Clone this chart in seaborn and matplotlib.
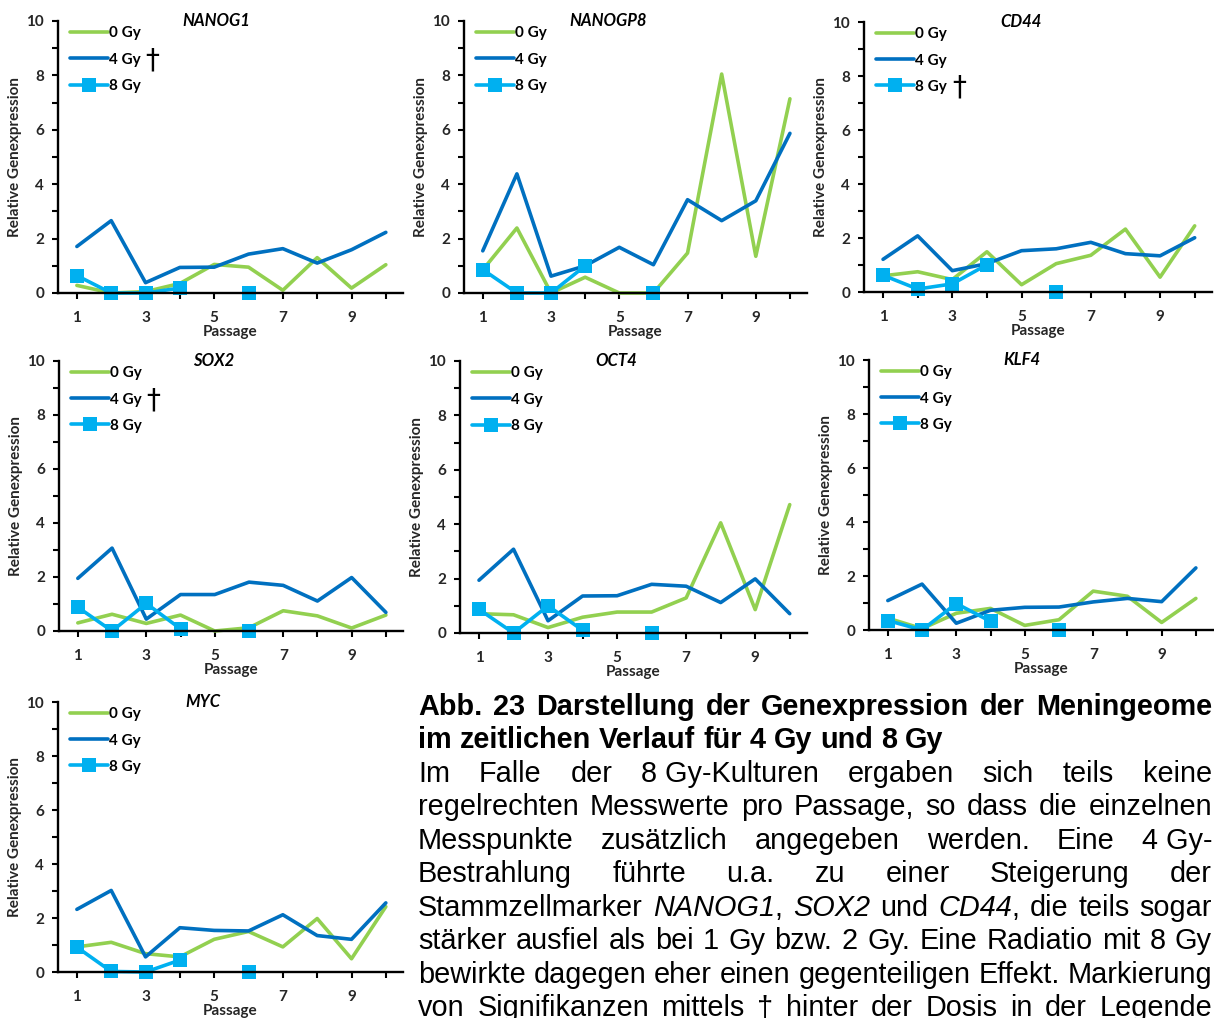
import numpy as np
import pandas as pd
import matplotlib
matplotlib.use("Agg")
import matplotlib.pyplot as plt
import seaborn as sns
from matplotlib.lines import Line2D

nan = np.nan

# ---------------- data ----------------
passages = list(range(1, 11))
doses = ["0 Gy", "4 Gy", "8 Gy"]
genes = ["NANOG1", "NANOGP8", "CD44", "SOX2", "OCT4", "KLF4", "MYC"]

nanog1_0gy = [0.28, 0.00, 0.05, 0.35, 1.05, 0.95, 0.10, 1.30, 0.18, 1.04]
nanog1_4gy = [1.71, 2.66, 0.38, 0.94, 0.95, 1.43, 1.63, 1.10, 1.59, 2.23]
nanog1_8gy = [0.64, 0.00, 0.00, 0.18, nan, 0.00, nan, nan, nan, nan]

nanogp8_0gy = [0.85, 2.39, 0.00, 0.58, 0.00, 0.00, 1.47, 8.05, 1.35, 7.14]
nanogp8_4gy = [1.55, 4.38, 0.62, 1.00, 1.68, 1.04, 3.43, 2.66, 3.39, 5.87]
nanogp8_8gy = [0.86, 0.00, 0.00, 1.00, nan, 0.00, nan, nan, nan, nan]

cd44_0gy = [0.60, 0.75, 0.46, 1.49, 0.27, 1.05, 1.36, 2.33, 0.55, 2.45]
cd44_4gy = [1.21, 2.08, 0.79, 1.05, 1.53, 1.60, 1.84, 1.42, 1.34, 2.01]
cd44_8gy = [0.62, 0.11, 0.30, 1.01, nan, 0.00, nan, nan, nan, nan]

sox2_0gy = [0.30, 0.62, 0.28, 0.59, 0.00, 0.12, 0.75, 0.56, 0.11, 0.59]
sox2_4gy = [1.95, 3.07, 0.44, 1.35, 1.35, 1.81, 1.69, 1.11, 1.98, 0.69]
sox2_8gy = [0.88, 0.00, 1.02, 0.08, nan, 0.00, nan, nan, nan, nan]

oct4_0gy = [0.71, 0.67, 0.20, 0.58, 0.77, 0.77, 1.29, 4.05, 0.86, 4.72]
oct4_4gy = [1.94, 3.08, 0.45, 1.36, 1.37, 1.79, 1.72, 1.12, 1.99, 0.71]
oct4_8gy = [0.87, 0.00, 1.00, 0.10, nan, 0.00, nan, nan, nan, nan]

klf4_0gy = [0.44, 0.05, 0.62, 0.80, 0.17, 0.38, 1.44, 1.25, 0.28, 1.17]
klf4_4gy = [1.09, 1.70, 0.25, 0.73, 0.84, 0.85, 1.04, 1.17, 1.05, 2.30]
klf4_8gy = [0.35, 0.00, 0.98, 0.32, nan, 0.00, nan, nan, nan, nan]

myc_0gy = [0.93, 1.10, 0.68, 0.56, 1.21, 1.50, 0.93, 1.98, 0.49, 2.42]
myc_4gy = [2.32, 3.02, 0.56, 1.64, 1.54, 1.52, 2.12, 1.35, 1.21, 2.56]
myc_8gy = [0.92, 0.02, 0.00, 0.44, nan, 0.00, nan, nan, nan, nan]

series = {
    "NANOG1": (nanog1_0gy, nanog1_4gy, nanog1_8gy),
    "NANOGP8": (nanogp8_0gy, nanogp8_4gy, nanogp8_8gy),
    "CD44": (cd44_0gy, cd44_4gy, cd44_8gy),
    "SOX2": (sox2_0gy, sox2_4gy, sox2_8gy),
    "OCT4": (oct4_0gy, oct4_4gy, oct4_8gy),
    "KLF4": (klf4_0gy, klf4_4gy, klf4_8gy),
    "MYC": (myc_0gy, myc_4gy, myc_8gy),
}
significant = {"NANOG1": "4 Gy", "CD44": "8 Gy", "SOX2": "4 Gy"}

x_ticklabels = ["1", "", "3", "", "5", "", "7", "", "9", ""]
y_label = "Relative Genexpression"
x_label = "Passage"

heading_lines = [
    "Abb. 23 Darstellung der Genexpression der Meningeome",
    "im zeitlichen Verlauf für 4 Gy und 8 Gy",
]
body_lines = [
    [["Im"], ["Falle"], ["der"], ["8 Gy-Kulturen"], ["ergaben"], ["sich"], ["teils"], ["keine"]],
    "regelrechten Messwerte pro Passage, so dass die einzelnen",
    [["Messpunkte"], ["zusätzlich"], ["angegeben"], ["werden."], ["Eine"], ["4 Gy-"]],
    "Bestrahlung führte u.a. zu einer Steigerung der",
    [["Stammzellmarker"], [("NANOG1", "italic"), (",", "normal")], [("SOX2", "italic")],
     ["und"], [("CD44", "italic"), (",", "normal")], ["die"], ["teils"], ["sogar"]],
    "stärker ausfiel als bei 1 Gy bzw. 2 Gy. Eine Radiatio mit 8 Gy",
    "bewirkte dagegen eher einen gegenteiligen Effekt. Markierung",
    "von Signifikanzen mittels † hinter der Dosis in der Legende",
]

# ---------------- style ----------------
colors = {"0 Gy": "#92D050", "4 Gy": "#0070C0", "8 Gy": "#00B0F0"}
sns.set_theme(style="ticks")
plt.rcParams["font.family"] = ["Lato", "DejaVu Sans"]
plt.rcParams["axes.edgecolor"] = "black"
plt.rcParams["text.color"] = "black"

W, H = 1214, 1018
fig = plt.figure(figsize=(W / 100, H / 100), dpi=100)
fig.patch.set_facecolor("white")

# axes boxes in pixels: left, right, top, bottom
boxes = {
    "NANOG1": (58, 403, 21, 293),
    "NANOGP8": (464, 807, 21, 293),
    "CD44": (864, 1212, 22, 292),
    "SOX2": (59, 403, 361, 631),
    "OCT4": (460, 807, 361, 633),
    "KLF4": (869, 1213, 360, 630),
    "MYC": (58, 403, 702, 972),
}
title_x = {"NANOG1": 0.46, "NANOGP8": 0.42, "CD44": 0.45, "SOX2": 0.45,
           "OCT4": 0.45, "KLF4": 0.445, "MYC": 0.42}

LW = 2.6
MS = 10.5
axes = {}
for gene in genes:
    l, r, t, b = boxes[gene]
    ax = fig.add_axes([l / W, 1 - b / H, (r - l) / W, (b - t) / H])
    axes[gene] = ax
    v0, v4, v8 = series[gene]
    d0 = pd.DataFrame({"Passage": passages, "val": v0})
    d4 = pd.DataFrame({"Passage": passages, "val": v4})
    d8 = pd.DataFrame({"Passage": passages, "val": v8})
    d8["seg"] = d8["val"].isna().cumsum()
    d8 = d8.dropna()
    sns.lineplot(data=d0, x="Passage", y="val", ax=ax, color=colors["0 Gy"],
                 lw=LW, legend=False, estimator=None)
    sns.lineplot(data=d4, x="Passage", y="val", ax=ax, color=colors["4 Gy"],
                 lw=LW, legend=False, estimator=None)
    sns.lineplot(data=d8, x="Passage", y="val", units="seg", ax=ax,
                 color=colors["8 Gy"], lw=LW, marker="s", markersize=MS,
                 markeredgewidth=0, legend=False, estimator=None)
    for ln in ax.lines:
        ln.set_clip_on(False)
    ax.set_xlim(0.45, 10.5)
    ax.set_ylim(0, 10)
    ax.set_xticks(passages)
    ax.set_xticklabels(x_ticklabels)
    ax.set_yticks([0, 2, 4, 6, 8, 10])
    ax.set_yticks([1, 3, 5, 7, 9], minor=True)
    ax.tick_params(axis="both", which="both", direction="out", width=1.5,
                   length=4, color="black")
    ax.tick_params(axis="y", labelsize=11, pad=6)
    ax.tick_params(axis="x", labelsize=11, pad=9)
    for lab in ax.get_xticklabels() + ax.get_yticklabels():
        lab.set_fontweight("bold")
    sns.despine(ax=ax)
    ax.spines["left"].set_linewidth(1.7)
    ax.spines["bottom"].set_linewidth(1.7)
    ax.set_xlabel(x_label, fontsize=11, fontweight="bold", labelpad=0)
    ax.set_ylabel(y_label, fontsize=11, fontweight="bold", labelpad=3)
    ax.set_facecolor("white")
    ax.text(title_x[gene], 1.0, gene, transform=ax.transAxes, ha="center",
            va="center", fontsize=12, fontweight="bold", style="italic")
    handles = [
        Line2D([], [], color=colors["0 Gy"], lw=LW),
        Line2D([], [], color=colors["4 Gy"], lw=LW),
        Line2D([], [], color=colors["8 Gy"], lw=LW, marker="s", markersize=MS,
               markeredgewidth=0),
    ]
    leg = ax.legend(handles, doses, loc="upper left", bbox_to_anchor=(0.035, 0.98),
                    frameon=False, borderpad=0, borderaxespad=0, handlelength=2.5,
                    handletextpad=0.05, labelspacing=0.8,
                    prop={"weight": "bold", "size": 11})

fig.canvas.draw()
renderer = fig.canvas.get_renderer()

# daggers after significant legend entries
for gene, dose in significant.items():
    leg = axes[gene].get_legend()
    for txt in leg.get_texts():
        if txt.get_text() == dose:
            bb = txt.get_window_extent(renderer)
            fig.text((bb.x1 + 5) / W, ((bb.y0 + bb.y1) / 2 - 1) / H, "†",
                     ha="left", va="center", fontsize=20,
                     family=["DejaVu Sans"])

# ---------------- text block ----------------
TFAM = ["Liberation Sans", "DejaVu Sans"]
TSIZE = 20.8
X0, X1 = 418, 1212


def run_width(txt, style="normal", weight="normal"):
    t = fig.text(0, 0, txt, fontsize=TSIZE, family=TFAM, style=style, fontweight=weight)
    w = t.get_window_extent(renderer).width
    t.remove()
    return w


def to_tokens(line):
    if isinstance(line, str):
        return [[(w, "normal")] for w in line.split(" ")]
    out = []
    for tok in line:
        if isinstance(tok[0], str):
            out.append([(tok[0], "normal")])
        else:
            out.append(list(tok))
    return out


def place_line(line, y_base, justify=True, weight="normal"):
    tokens = to_tokens(line)
    widths = []
    for tok in tokens:
        widths.append(sum(run_width(tx, st, weight) for tx, st in tok))
    if justify and len(tokens) > 1:
        gap = (X1 - X0 - sum(widths)) / (len(tokens) - 1)
    else:
        gap = run_width("a a", weight=weight) - run_width("aa", weight=weight)
    x = X0
    for tok, w in zip(tokens, widths):
        xx = x
        for tx, st in tok:
            fig.text(xx / W, 1 - y_base / H, tx, ha="left", va="baseline",
                     fontsize=TSIZE, family=TFAM, style=st, fontweight=weight)
            xx += run_width(tx, st, weight)
        x += w + gap


place_line(heading_lines[0], 715, justify=True, weight="bold")
place_line(heading_lines[1], 748, justify=False, weight="bold")
baselines = [782, 815, 849, 882, 916, 949, 983, 1016]
for line, yb in zip(body_lines, baselines):
    place_line(line, yb, justify=True)

fig.savefig("out.png", dpi=100, facecolor="white")
